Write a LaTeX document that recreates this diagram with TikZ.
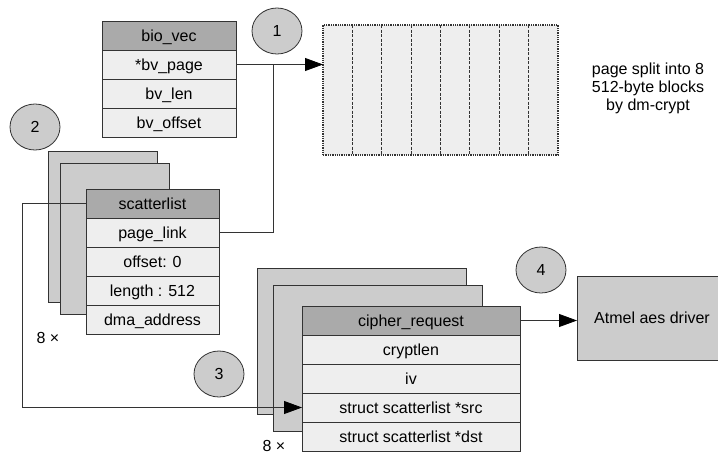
\documentclass[tikz,border=0pt]{standalone}
\usepackage{fontspec}
\setmainfont{Liberation Sans}
\usetikzlibrary{positioning,shapes.geometric,arrows.meta}

\definecolor{linegray}{HTML}{333333}
\definecolor{headgray}{HTML}{AAAAAA}
\definecolor{fieldgray}{HTML}{EEEEEE}
\definecolor{cardgray}{HTML}{CCCCCC}

\tikzset{
  labelfont/.style={font=\fontsize{16}{18}\selectfont},
  structfield/.style={draw=linegray, fill=fieldgray, line width=0.8pt, minimum height=29pt,
    inner sep=0pt, outer sep=0pt, text height=12pt, text depth=0pt, labelfont},
  structhead/.style={structfield, fill=headgray},
  card/.style={draw=linegray, fill=cardgray, line width=0.8pt, inner sep=0pt, outer sep=0pt},
  stepmark/.style={ellipse, draw=linegray, fill=cardgray, line width=0.8pt, minimum width=50pt,
    minimum height=46pt, inner sep=0pt, labelfont},
  blockline/.style={draw=linegray, line width=0.8pt, dash pattern=on 3pt off 1.5pt},
  link/.style={draw=linegray, line width=0.8pt},
  arrowlink/.style={link, -{Triangle[length=18pt,width=13pt,color=black]}},
}

\begin{document}
\begin{tikzpicture}[x=1pt,y=-1pt]
  \useasboundingbox (0,0) rectangle (718,456);

  % bio_vec
  \begin{scope}[nodes={minimum width=134pt}]
    \node[structhead] (biovec) at (169,35.5) {bio\_vec};
    \node[structfield, below=0pt of biovec] (bvpage) {*bv\_page};
    \node[structfield, below=0pt of bvpage] (bvlen) {bv\_len};
    \node[structfield, below=0pt of bvlen] (bvoffset) {bv\_offset};
  \end{scope}

  % the page, 8 blocks
  \node[draw=linegray, fill=fieldgray, line width=1.3pt, densely dotted, minimum width=235pt,
    minimum height=130pt, inner sep=0pt, outer sep=0pt] (pagebox) at (440.5,90) {};
  \foreach \k in {1,...,7}
    \draw[blockline] ([xshift=\k*29.375pt]pagebox.north west) -- ([xshift=\k*29.375pt]pagebox.south west);
  \node[labelfont, align=center] (pagenote) at (648,88) {page split into 8\\512-byte blocks\\by dm-crypt};

  % scatterlist
  \node[card, minimum width=109pt, minimum height=151pt] (slcardA) at (102.5,226.5) {};
  \node[card, minimum width=109pt, minimum height=151pt] (slcardB) at (114.5,238.5) {};
  \begin{scope}[nodes={minimum width=133pt}]
    \node[structhead] (slhead) at (152.5,203.5) {scatterlist};
    \node[structfield, below=0pt of slhead] (slpage) {page\_link};
    \node[structfield, below=0pt of slpage] (sloffset) {offset: 0};
    \node[structfield, below=0pt of sloffset] (sllength) {length : 512};
    \node[structfield, below=0pt of sllength] (sldma) {dma\_address};
  \end{scope}
  \node[labelfont] (slcount) at (48,338) {8 ×};

  % cipher_request
  \node[card, minimum width=209pt, minimum height=146pt] (crcardA) at (361.5,341) {};
  \node[card, minimum width=209pt, minimum height=146pt] (crcardB) at (377.5,358) {};
  \begin{scope}[nodes={minimum width=218pt}]
    \node[structhead] (crhead) at (411,320.5) {cipher\_request};
    \node[structfield, below=0pt of crhead] (crlen) {cryptlen};
    \node[structfield, below=0pt of crlen] (criv) {iv};
    \node[structfield, below=0pt of criv] (crsrc) {struct scatterlist *src};
    \node[structfield, below=0pt of crsrc] (crdst) {struct scatterlist *dst};
  \end{scope}
  \node[labelfont] (crcount) at (274,446) {8 ×};

  \node[card, labelfont, minimum width=150pt, minimum height=84pt] (atmel) at (652,318) {Atmel aes driver};

  % steps
  \node[stepmark] (mark1) at (277,31) {1};
  \node[stepmark] (mark2) at (35,127) {2};
  \node[stepmark] (mark3) at (219,374) {3};
  \node[stepmark] (mark4) at (541,270) {4};

  % connectors
  \path (bvpage.east) ++(37,0) coordinate (pagejoin);
  \draw[arrowlink] (bvpage.east) -- (bvpage.east -| pagebox.west);
  \draw[link] (slpage.east) -| (pagejoin);
  \draw[arrowlink] (slhead.west) -- ++(-64,0) |- (crsrc.west);
  \draw[arrowlink] (crhead.east) -- (crhead.east -| atmel.west);
\end{tikzpicture}
\end{document}
